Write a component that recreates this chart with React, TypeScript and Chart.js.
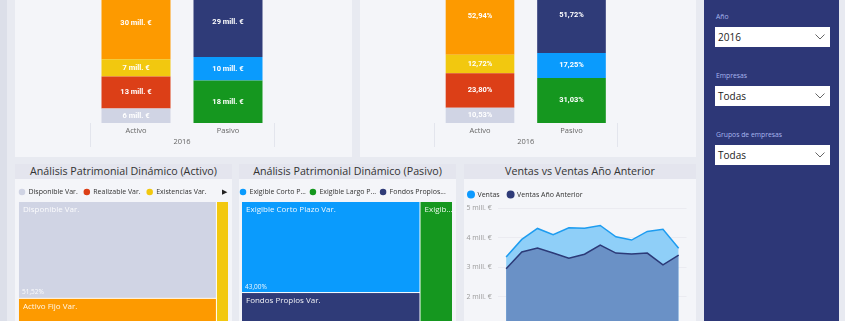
import React, { useEffect, useRef } from 'react';
import { Chart, registerables } from 'chart.js';

Chart.register(...registerables);

const FONT = "'Open Sans', 'Noto Sans', sans-serif";
const LABEL_FONT = "Roboto, 'DejaVu Sans', sans-serif";
Chart.defaults.font.family = FONT;

// ---------- Balance (top stacked bars) ----------
const balanceCategories = ['Activo', 'Pasivo'];
const balanceYear = '2016';
const activoNames = ['Disponible', 'Realizable', 'Existencias', 'Activo Fijo'];
const activoMillions = [6.0, 13.4, 7.2, 30.2];
const activoPercent = [10.53, 23.8, 12.72, 52.94];
const activoColors = ['#d0d4e4', '#dc3f17', '#f2c80f', '#fd9a00'];
const pasivoNames = ['Exigible Largo Plazo', 'Exigible Corto Plazo', 'Fondos Propios'];
const pasivoMillions = [17.7, 9.8, 29.4];
const pasivoPercent = [31.03, 17.25, 51.72];
const pasivoColors = ['#15971f', '#0a9bfd', '#2f3b78'];

// ---------- Treemaps ----------
const activoVarNames = ['Disponible Var.', 'Realizable Var.', 'Existencias Var.', 'Activo Fijo Var.'];
const activoVarPercent = [51.52, 1.1, 4.2, 43.18];
const activoVarColumn = [0, 1, 1, 0];
const activoVarColors = ['#d0d4e4', '#dc3f17', '#f2c80f', '#fd9a00'];
const activoLegendVisible = 3;

const pasivoVarNames = ['Exigible Corto Plazo Var.', 'Exigible Largo Plazo Var.', 'Fondos Propios Var.'];
const pasivoVarPercent = [43.0, 15.0, 42.0];
const pasivoVarColumn = [0, 1, 0];
const pasivoVarColors = ['#0a9bfd', '#15971f', '#2f3b78'];

// ---------- Ventas ----------
const months = ['Ene', 'Feb', 'Mar', 'Abr', 'May', 'Jun', 'Jul', 'Ago', 'Sep', 'Oct', 'Nov', 'Dic'];
const ventas = [3.35, 3.94, 4.31, 4.1, 4.33, 4.32, 4.41, 4.03, 3.92, 4.21, 4.28, 3.64];
const ventasAnterior = [2.95, 3.52, 3.65, 3.48, 3.31, 3.44, 3.75, 3.48, 3.45, 3.48, 3.08, 3.41];

// ---------- Slicers ----------
const slicers = [
  { label: 'Año', value: '2016' },
  { label: 'Empresas', value: 'Todas' },
  { label: 'Grupos de empresas', value: 'Todas' },
];

const fmtMill = (v: number) => `${Math.round(v)} mill. €`;
const fmtPct = (v: number) => `${v.toFixed(2).replace('.', ',')}%`;
const sum = (a: number[]) => a.reduce((s, v) => s + v, 0);

function truncate(ctx: CanvasRenderingContext2D, text: string, maxW: number) {
  if (ctx.measureText(text).width <= maxW) return text;
  let t = text;
  while (t.length > 1 && ctx.measureText(t).width > maxW) t = t.slice(0, -1);
  return t.trimEnd() + '...';
}

function barLabelPlugin(fmt: (v: number) => string) {
  return {
    id: 'barLabels',
    afterDatasetsDraw(chart: any) {
      const { ctx } = chart;
      ctx.save();
      ctx.font = `bold 7.5px ${LABEL_FONT}`;
      ctx.fillStyle = '#ffffff';
      ctx.textAlign = 'center';
      ctx.textBaseline = 'middle';
      chart.data.datasets.forEach((ds: any, di: number) => {
        const meta = chart.getDatasetMeta(di);
        meta.data.forEach((el: any, i: number) => {
          const v = ds.data[i];
          if (v == null) return;
          const p = el.getProps(['x', 'y', 'base'], true);
          ctx.fillText(fmt(v), p.x, (p.y + p.base) / 2);
        });
      });
      const { left, right, bottom } = chart.chartArea;
      ctx.strokeStyle = '#e3e5ed';
      ctx.lineWidth = 1;
      ctx.beginPath();
      [left, right].forEach((px: number) => {
        const x = Math.round(px) + 0.5;
        ctx.moveTo(x, bottom);
        ctx.lineTo(x, bottom + 24);
      });
      ctx.stroke();
      ctx.restore();
    },
  };
}

function barConfig(a: number[], p: number[], yMax: number, fmt: (v: number) => string, pad: any) {
  const datasets = [
    ...activoNames.map((n, i) => ({ label: n, data: [a[i], null], backgroundColor: activoColors[i], stack: 's' })),
    ...pasivoNames.map((n, i) => ({ label: n, data: [null, p[i]], backgroundColor: pasivoColors[i], stack: 's' })),
  ];
  return {
    type: 'bar',
    data: { labels: balanceCategories, datasets },
    options: {
      animation: false,
      responsive: false,
      layout: { padding: pad },
      datasets: { bar: { categoryPercentage: 0.75, barPercentage: 1, borderWidth: 0 } },
      plugins: { legend: { display: false }, tooltip: { enabled: false } },
      scales: {
        x: {
          stacked: true,
          grid: { display: false, drawTicks: false },
          border: { display: false },
          ticks: { color: '#666', font: { family: FONT, size: 7.5 }, padding: 3 },
          title: {
            display: true,
            text: balanceYear,
            color: '#666',
            font: { family: FONT, size: 7.5 },
            padding: { top: -0.5, bottom: 0 },
          },
        },
        y: { stacked: true, display: false, min: 0, max: yMax },
      },
    },
    plugins: [barLabelPlugin(fmt)],
  };
}

function layoutTreemap(values: number[], columns: number[]) {
  const ids = Array.from(new Set(columns));
  const total = sum(values);
  const cols = ids
    .map((c) => {
      const idx = values.map((_, i) => i).filter((i) => columns[i] === c).sort((x, y) => values[y] - values[x]);
      return { idx, s: sum(idx.map((i) => values[i])) };
    })
    .sort((x, y) => y.s - x.s);
  const rects: any[] = [];
  let x = 0;
  cols.forEach((col) => {
    const w = (col.s / total) * 100;
    let y = 0;
    col.idx.forEach((i) => {
      const h = (values[i] / col.s) * 100;
      rects[i] = { x0: x, x1: x + w, y0: y, y1: y + h };
      y += h;
    });
    x += w;
  });
  return rects;
}

const treemapPlugin = (columns: number[]) => ({
  id: 'treemapCells',
  afterDatasetsDraw(chart: any) {
    const { ctx, chartArea } = chart;
    const xs = chart.scales.x;
    const ys = chart.scales.y;
    const values = chart.data.datasets.map((d: any) => d.data[0] as number);
    const rects = layoutTreemap(values, columns);
    ctx.save();
    ctx.beginPath();
    ctx.rect(chartArea.left, chartArea.top, chartArea.right - chartArea.left, chartArea.bottom - chartArea.top);
    ctx.clip();
    const X0 = xs.getPixelForValue(0), X1 = xs.getPixelForValue(100);
    const Y0 = ys.getPixelForValue(0), Y1 = ys.getPixelForValue(100);
    ctx.fillStyle = '#ffffff';
    ctx.fillRect(X0, Y0, X1 - X0, Y1 - Y0);
    rects.forEach((r: any, i: number) => {
      const ds = chart.data.datasets[i];
      const x0 = xs.getPixelForValue(r.x0), x1 = xs.getPixelForValue(r.x1);
      const y0 = ys.getPixelForValue(r.y0), y1 = ys.getPixelForValue(r.y1);
      const last = r.x1 > 99.99;
      const bottom = r.y1 > 99.99;
      ctx.fillStyle = ds.backgroundColor;
      ctx.fillRect(x0, y0, x1 - x0 - (last ? 0 : 1), y1 - y0 - (bottom ? 0 : 1));
      const w = x1 - x0;
      if (w < 20) return;
      ctx.fillStyle = 'rgba(255,255,255,0.92)';
      ctx.textAlign = 'left';
      ctx.textBaseline = 'top';
      ctx.font = `8px ${FONT}`;
      ctx.fillText(truncate(ctx, ds.label, w - 9), x0 + 4, y0 + 4);
      ctx.font = `6.5px ${FONT}`;
      ctx.textBaseline = 'bottom';
      ctx.fillText(fmtPct(values[i]), x0 + 3, y1 - 3);
    });
    ctx.restore();
  },
});

function treemapConfig(
  names: string[],
  values: number[],
  colors: string[],
  columns: number[],
  visible: number,
  maxText: number,
  legendPad: number,
) {
  const topPad = 6 - legendPad + 2.5;
  return {
    type: 'scatter',
    data: {
      datasets: names.map((n, i) => ({
        label: n,
        data: [values[i]],
        backgroundColor: colors[i],
        borderColor: colors[i],
        pointBackgroundColor: colors[i],
        pointBorderColor: colors[i],
        pointBorderWidth: 0,
        borderWidth: 0,
        pointRadius: 0,
      })),
    },
    options: {
      animation: false,
      responsive: false,
      layout: { padding: { left: 0, right: 4, top: topPad, bottom: 0 } },
      plugins: {
        tooltip: { enabled: false },
        legend: {
          display: true,
          position: 'top',
          align: 'start',
          maxHeight: 22 - topPad,
          labels: {
            usePointStyle: true,
            pointStyle: 'circle',
            boxWidth: 6,
            boxHeight: 4.6,
            padding: legendPad,
            color: '#333',
            font: { family: FONT, size: 7 },
            filter: (item: any) => item.datasetIndex < visible,
            generateLabels: (chart: any) => {
              const items = Chart.defaults.plugins.legend.labels.generateLabels(chart);
              const ctx = chart.ctx;
              ctx.save();
              ctx.font = `7px ${FONT}`;
              items.forEach((it: any) => {
                it.text = truncate(ctx, it.text, maxText);
              });
              ctx.restore();
              return items;
            },
          },
        },
      },
      scales: {
        x: { type: 'linear', display: false, min: -2.86, max: 100 },
        y: { type: 'linear', display: false, min: 0, max: 100, reverse: true },
      },
    },
    plugins: [treemapPlugin(columns)],
  };
}

function salesConfig() {
  return {
    type: 'line',
    data: {
      labels: months,
      datasets: [
        {
          label: 'Ventas',
          data: ventas,
          borderColor: '#1d9cf0',
          backgroundColor: '#8fcff8',
          pointBackgroundColor: '#0d9aff',
          pointBorderColor: '#0d9aff',
          fill: 'origin',
          order: 2,
          pointRadius: 0,
          borderWidth: 1.5,
          tension: 0,
        },
        {
          label: 'Ventas Año Anterior',
          data: ventasAnterior,
          borderColor: '#2c3a78',
          backgroundColor: '#6a91c6',
          pointBackgroundColor: '#2f3b78',
          pointBorderColor: '#2f3b78',
          fill: 'origin',
          order: 1,
          pointRadius: 0,
          borderWidth: 1.5,
          tension: 0,
        },
      ],
    },
    options: {
      animation: false,
      responsive: false,
      layout: { padding: { left: 0, right: 9.5, top: 0, bottom: 0 } },
      plugins: {
        tooltip: { enabled: false },
        legend: {
          position: 'top',
          align: 'start',
          labels: {
            usePointStyle: true,
            pointStyle: 'circle',
            boxWidth: 6,
            boxHeight: 4.6,
            padding: 8,
            color: '#333',
            font: { family: FONT, size: 7 },
            sort: (a: any, b: any) => a.datasetIndex - b.datasetIndex,
          },
        },
      },
      scales: {
        x: { display: false, offset: true },
        y: {
          min: 0,
          max: 5,
          border: { display: false },
          grid: { color: '#ebebf1', drawTicks: false },
          ticks: {
            stepSize: 1,
            color: '#9a9a9a',
            padding: 6.5,
            font: { family: FONT, size: 7 },
            callback: (v: any) => `${v} mill. €`,
          },
        },
      },
    },
  };
}

function ChartCanvas({ left, top, width, height, make }: any) {
  const ref = useRef<HTMLCanvasElement>(null);
  useEffect(() => {
    const chart = new Chart(ref.current as HTMLCanvasElement, make());
    return () => chart.destroy();
  }, []);
  return (
    <canvas
      ref={ref}
      width={width}
      height={height}
      style={{ position: 'absolute', left, top, width, height }}
    />
  );
}

const panel = (left: number, top: number, width: number, height: number) => ({
  position: 'absolute' as const,
  left,
  top,
  width,
  height,
  background: '#f4f5f9',
});

function Title({ left, width, text }: any) {
  return (
    <div
      style={{
        position: 'absolute',
        left,
        top: 164,
        width,
        height: 15,
        background: '#e4e5ee',
        color: '#333',
        font: `10.7px ${FONT}`,
        lineHeight: '15px',
        textAlign: 'center',
        whiteSpace: 'nowrap',
      }}
    >
      {text}
    </div>
  );
}

function Slicer({ label, value, top }: any) {
  return (
    <>
      <div
        style={{
          position: 'absolute',
          left: 716,
          top: top - 15,
          font: `6.8px ${FONT}`,
          color: '#a7b5ee',
          lineHeight: '10px',
          whiteSpace: 'nowrap',
        }}
      >
        {label}
      </div>
      <div
        style={{
          position: 'absolute',
          left: 715,
          top,
          width: 115,
          height: 20,
          background: '#ffffff',
          font: `10px ${FONT}`,
          color: '#222',
          lineHeight: '20px',
          paddingLeft: 3,
          boxSizing: 'border-box',
        }}
      >
        {value}
        <svg width="10" height="6" style={{ position: 'absolute', right: 5, top: 7 }}>
          <polyline points="0.5,0.5 5,5 9.5,0.5" fill="none" stroke="#666" strokeWidth="1" />
        </svg>
      </div>
    </>
  );
}

export default function App() {
  const maxMill = Math.max(sum(activoMillions), sum(pasivoMillions));
  return (
    <div
      style={{
        position: 'fixed',
        left: 0,
        top: 0,
        width: 845,
        height: 321,
        overflow: 'hidden',
        background: '#e8eaf1',
        fontFamily: FONT,
      }}
    >
      <div style={{ position: 'absolute', left: 0, top: 0, width: 7, height: 321, background: '#dcdfe9' }} />

      {/* top panels */}
      <div style={panel(15, -10, 337, 167)} />
      <div style={panel(360, -10, 336, 167)} />
      <ChartCanvas
        left={15}
        top={-40}
        width={337}
        height={197}
        make={() => barConfig(activoMillions, pasivoMillions, maxMill, fmtMill, { left: 75, right: 78, top: 26.4, bottom: 10.5 })}
      />
      <ChartCanvas
        left={360}
        top={-40}
        width={336}
        height={197}
        make={() => barConfig(activoPercent, pasivoPercent, 100, fmtPct, { left: 74.25, right: 78.75, top: 18, bottom: 10.5 })}
      />

      {/* bottom panels */}
      <div style={panel(15, 164, 217, 200)} />
      <div style={panel(239, 164, 217, 200)} />
      <div style={panel(464, 164, 232, 200)} />
      <Title left={15} width={217} text="Análisis Patrimonial Dinámico (Activo)" />
      <Title left={239} width={217} text="Análisis Patrimonial Dinámico (Pasivo)" />
      <Title left={464} width={232} text="Ventas vs Ventas Año Anterior" />

      <ChartCanvas
        left={13}
        top={180}
        width={219}
        height={200}
        make={() => treemapConfig(activoVarNames, activoVarPercent, activoVarColors, activoVarColumn, activoLegendVisible, 1000, 6)}
      />
      <div style={{ position: 'absolute', left: 222, top: 187, font: `7px ${FONT}`, color: '#222', lineHeight: '10px' }}>▶</div>
      <ChartCanvas
        left={236}
        top={180}
        width={220}
        height={202}
        make={() => treemapConfig(pasivoVarNames, pasivoVarPercent, pasivoVarColors, pasivoVarColumn, 99, 52, 4)}
      />
      <ChartCanvas left={460} top={183} width={236} height={184} make={salesConfig} />

      {/* sidebar */}
      <div style={{ position: 'absolute', left: 704, top: 0, width: 135, height: 321, background: '#2d3777' }} />
      {slicers.map((s, i) => (
        <Slicer key={s.label} label={s.label} value={s.value} top={27 + i * 59} />
      ))}
    </div>
  );
}
